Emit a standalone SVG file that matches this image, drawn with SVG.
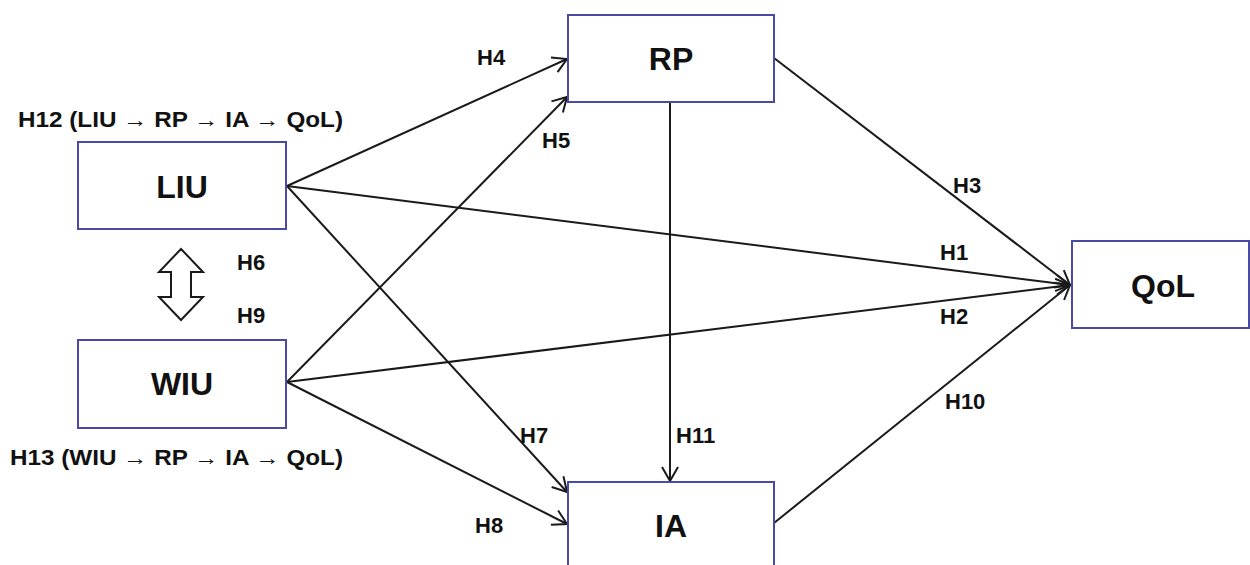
<svg xmlns="http://www.w3.org/2000/svg" width="1250" height="565" viewBox="0 0 1250 565">
<style>
.box{fill:#fff;stroke:#4a4aa6;stroke-width:2}
.nl{font-family:"Liberation Sans",Arial,sans-serif;font-weight:bold;font-size:32px;fill:#111;text-anchor:middle}
.lb{font-family:"Liberation Sans",Arial,sans-serif;font-weight:bold;font-size:22px;fill:#111}
.cn{stroke:#1a1a1a;stroke-width:2;fill:none;marker-end:url(#ah)}
</style>
<defs>
<marker id="ah" viewBox="-16 -10 18 20" refX="0" refY="0" markerWidth="18" markerHeight="20" orient="auto" markerUnits="userSpaceOnUse">
<path d="M-14,-8 L0,0 L-14,8" fill="none" stroke="#1a1a1a" stroke-width="2"/>
</marker>
</defs>
<rect width="1250" height="565" fill="#fff"/>
<g id="connectors">
<line class="cn" x1="287" y1="186" x2="567" y2="59"/>
<line class="cn" x1="287" y1="382" x2="567" y2="97"/>
<line class="cn" x1="287" y1="186" x2="1070" y2="285"/>
<line class="cn" x1="287" y1="382" x2="1070" y2="285"/>
<line class="cn" x1="287" y1="186" x2="567" y2="492"/>
<line class="cn" x1="287" y1="382" x2="567" y2="524"/>
<line class="cn" x1="670" y1="102" x2="670" y2="481"/>
<line class="cn" x1="774" y1="58" x2="1070" y2="285"/>
<line class="cn" x1="774" y1="523" x2="1070" y2="285"/>
<polygon points="181,249 203,272 191,272 191,297 203,297 181,320 159,297 171,297 171,272 159,272" fill="#fff" stroke="#1a1a1a" stroke-width="2" stroke-linejoin="miter"/>
</g>
<g id="LIU"><rect class="box" x="78" y="142" width="208" height="87"/><text class="nl" x="182" y="198">LIU</text></g>
<g id="WIU"><rect class="box" x="78" y="340" width="208" height="88"/><text class="nl" x="182" y="395">WIU</text></g>
<g id="RP"><rect class="box" x="568" y="15" width="206" height="87"/><text class="nl" x="671" y="70">RP</text></g>
<g id="IA"><rect class="box" x="568" y="482" width="206" height="100"/><text class="nl" x="671" y="537">IA</text></g>
<g id="QoL"><rect class="box" x="1072" y="241" width="177" height="87"/><text class="nl" x="1163" y="297">QoL</text></g>
<g id="labels">
<text class="lb" x="18" y="127" textLength="325" lengthAdjust="spacingAndGlyphs">H12 (LIU → RP → IA → QoL)</text>
<text class="lb" x="10" y="465" textLength="333" lengthAdjust="spacingAndGlyphs">H13 (WIU → RP → IA → QoL)</text>
<text class="lb" x="477" y="65">H4</text>
<text class="lb" x="542" y="148">H5</text>
<text class="lb" x="237" y="270">H6</text>
<text class="lb" x="237" y="323">H9</text>
<text class="lb" x="953" y="193">H3</text>
<text class="lb" x="940" y="260">H1</text>
<text class="lb" x="940" y="324">H2</text>
<text class="lb" x="945" y="409">H10</text>
<text class="lb" x="520" y="443">H7</text>
<text class="lb" x="676" y="443">H11</text>
<text class="lb" x="475" y="533">H8</text>
</g>
</svg>
